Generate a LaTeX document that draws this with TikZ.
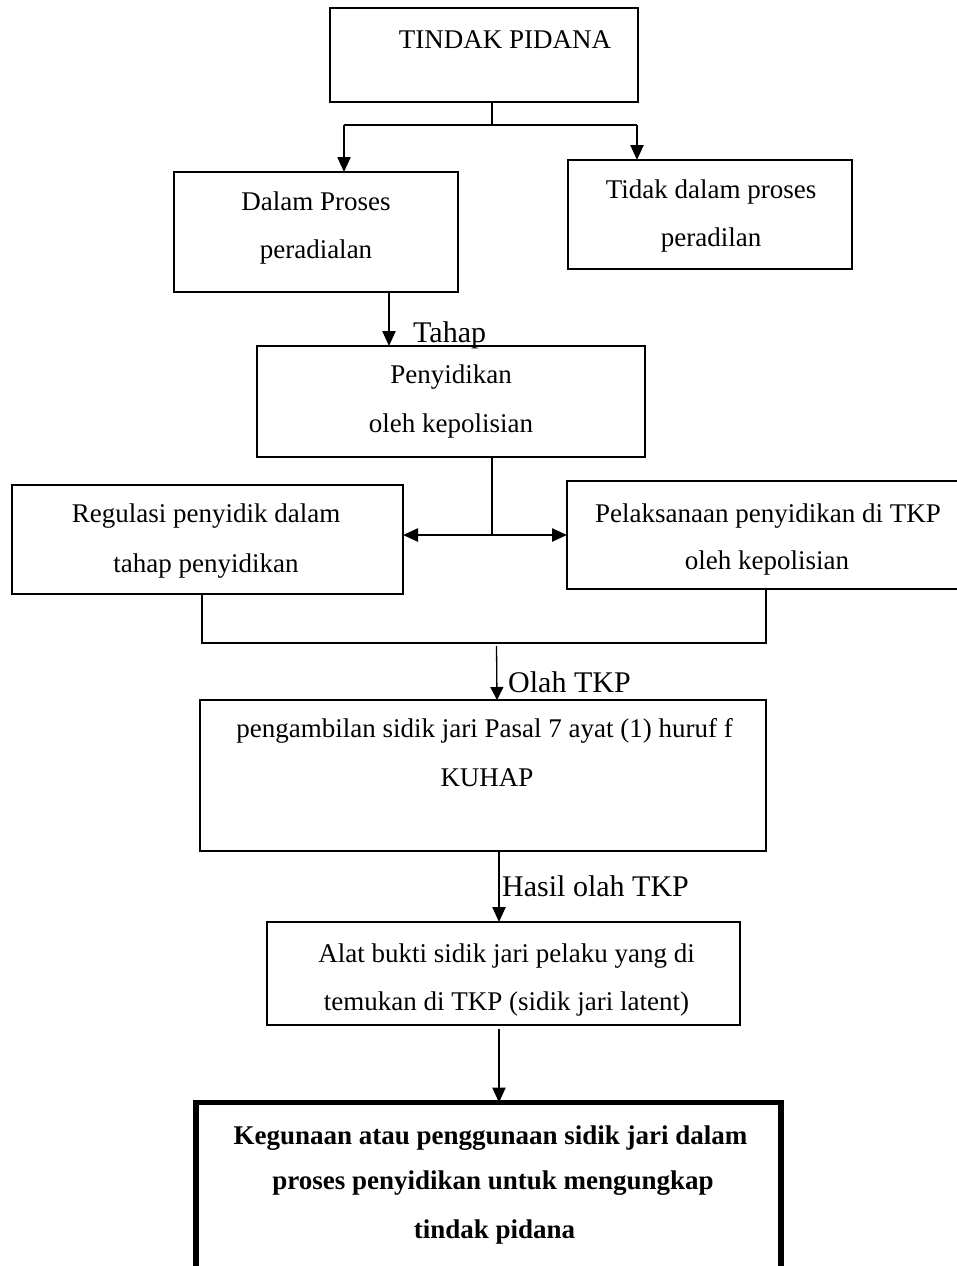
\documentclass[tikz,border=0pt]{standalone}
\usepackage{fontspec}
\setmainfont{Liberation Serif}
\usetikzlibrary{arrows.meta}
\tikzset{
  box/.style={draw, line width=2.4pt, rectangle, inner sep=0pt, outer sep=0pt},
  thickbox/.style={draw, line width=5.5pt, rectangle, inner sep=0pt, outer sep=0pt},
  txt/.style={font=\fontsize{27}{32}\selectfont, anchor=base, inner sep=0pt},
  boldtxt/.style={font=\fontsize{27}{32}\selectfont\bfseries, anchor=base, inner sep=0pt},
  lbl/.style={font=\fontsize{30}{36}\selectfont, anchor=base west, inner sep=0pt},
  conn/.style={line width=2.4pt},
  arr/.style={conn, -{Triangle[width=13pt,length=15pt]}},
  thinarr/.style={line width=1.3pt, -{Triangle[width=13pt,length=13pt]}},
  dblarr/.style={conn, {Triangle[width=13pt,length=15pt]}-{Triangle[width=13pt,length=15pt]}},
}
\begin{document}
\begin{tikzpicture}[x=1pt,y=-1pt]
\useasboundingbox (0,0) rectangle (956,1266);

% boxes
\node[box, minimum width=308pt, minimum height=94pt] (tindak) at (484,55) {};
\node[box, minimum width=284pt, minimum height=120pt] (dalam) at (316,232) {};
\node[box, minimum width=284pt, minimum height=109pt] (tidak) at (710,214.5) {};
\node[box, minimum width=388pt, minimum height=111pt] (peny) at (451,401.5) {};
\node[box, minimum width=391pt, minimum height=109pt] (reg) at (207.5,539.5) {};
\node[box, minimum width=398pt, minimum height=108pt] (pel) at (766,535) {};
\node[box, minimum width=566pt, minimum height=151pt] (peng) at (483,775.5) {};
\node[box, minimum width=473pt, minimum height=103pt] (alat) at (503.5,973.5) {};
\node[thickbox, minimum width=585pt, minimum height=175pt] (final) at (488.5,1190) {};

% texts
\node[txt] (t-tindak) at (505,48) {TINDAK PIDANA};
\node[txt] (t-dalam1) at (316,210) {Dalam Proses};
\node[txt] (t-dalam2) at (316,258) {peradialan};
\node[txt] (t-tidak1) at (711,198) {Tidak dalam proses};
\node[txt] (t-tidak2) at (711,246) {peradilan};
\node[txt] (t-peny1) at (451,383) {Penyidikan};
\node[txt] (t-peny2) at (451,432) {oleh kepolisian};
\node[txt] (t-reg1) at (206,522) {Regulasi penyidik dalam};
\node[txt] (t-reg2) at (206,572) {tahap penyidikan};
\node[txt] (t-pel1) at (768,522) {Pelaksanaan penyidikan di TKP};
\node[txt] (t-pel2) at (767,569) {oleh kepolisian};
\node[txt] (t-peng1) at (484.5,737) {pengambilan sidik jari Pasal 7 ayat (1) huruf f};
\node[txt] (t-peng2) at (487,786) {KUHAP};
\node[txt] (t-alat1) at (506.5,962) {Alat bukti sidik jari pelaku yang di};
\node[txt] (t-alat2) at (506.5,1010) {temukan di TKP (sidik jari latent)};
\node[boldtxt] (t-fin1) at (490.5,1144) {Kegunaan atau penggunaan sidik jari dalam};
\node[boldtxt] (t-fin2) at (493,1189) {proses penyidikan untuk mengungkap};
\node[boldtxt] (t-fin3) at (494.5,1238) {tindak pidana};

% labels
\node[lbl] (l-tahap) at (413,342) {Tahap};
\node[lbl] (l-olah) at (508,692) {Olah TKP};
\node[lbl] (l-hasil) at (502,896) {Hasil olah TKP};

% connectors
\coordinate (j1) at (492,125);
\coordinate (jl) at (344,125);
\coordinate (jr) at (637,125);
\draw[conn] (tindak.south -| j1) -- (j1);
\draw[conn] (jl) -- (jr);
\draw[arr] (jl) -- (jl |- dalam.north);
\draw[arr] (jr) -- (jr |- tidak.north);

\coordinate (c2) at (389,0);
\draw[arr] (dalam.south -| c2) -- (peny.north -| c2);

\coordinate (c3) at (492,535);
\draw[conn] (peny.south -| c3) -- (c3);
\draw[dblarr] (reg.east |- c3) -- (pel.west |- c3);

\coordinate (bl) at (202,643);
\coordinate (br) at (766,643);
\draw[conn] (reg.south -| bl) -- (bl) -- (br) -- (pel.south -| br);

\coordinate (o1) at (496.5,646);
\coordinate (o2) at (497,0);
\draw[thinarr] (o1) -- (peng.north -| o2);

\coordinate (c4) at (499,0);
\draw[arr] (peng.south -| c4) -- (alat.north -| c4);
\coordinate (c5) at (499,1029);
\draw[arr] (c5) -- (final.north -| c5);
\end{tikzpicture}
\end{document}
